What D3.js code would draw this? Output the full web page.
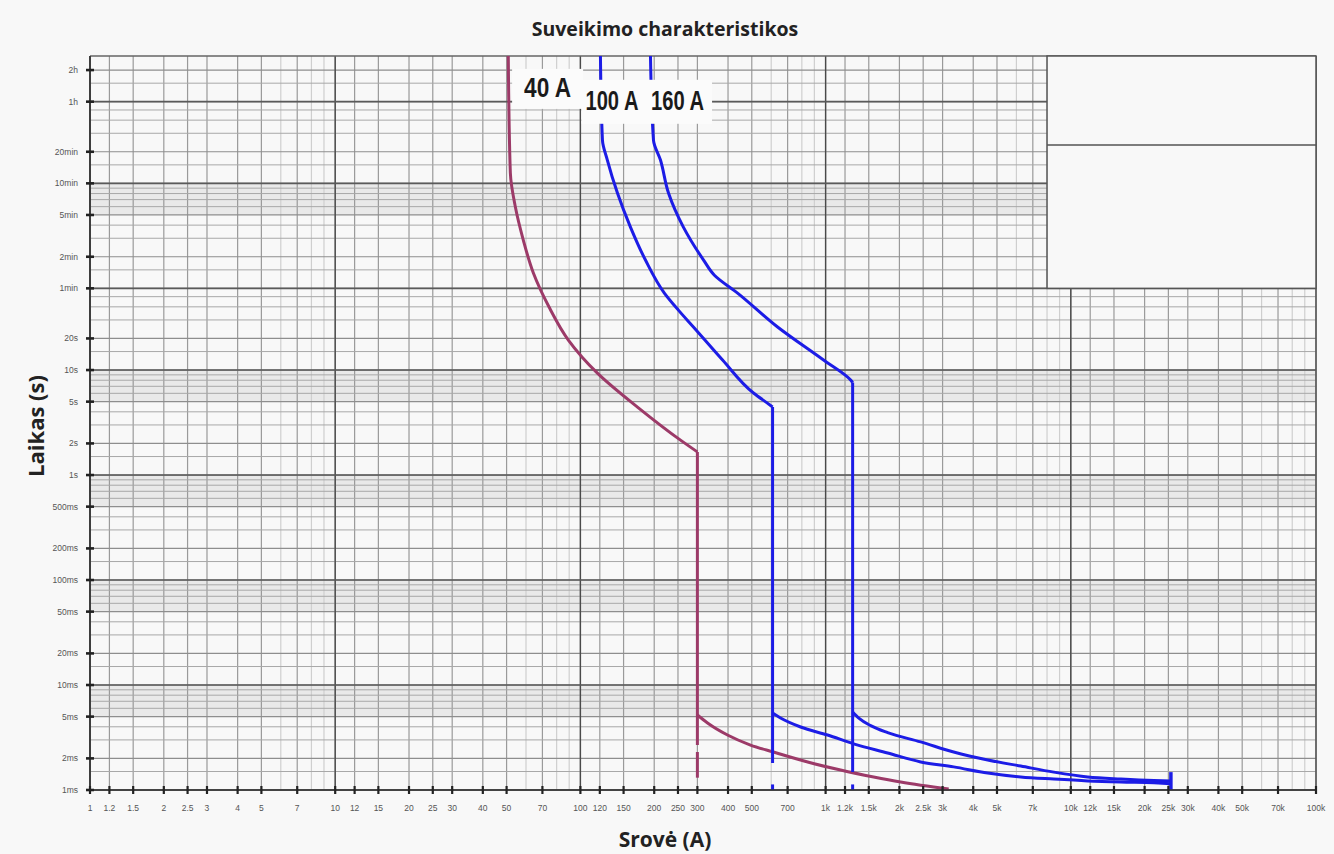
<!DOCTYPE html>
<html>
<head>
<meta charset="utf-8">
<script src="https://cdn.jsdelivr.net/npm/d3@7"></script>
<style>
  body { margin: 0; background: #f8f8f8; }
</style>
</head>
<body>
<div id="chart"></div>
<script>
// ---- axis ticks ----
const xTickValues = [1, 1.2, 1.5, 2, 2.5, 3, 4, 5, 7, 10, 12, 15, 20, 25, 30, 40, 50, 70,
  100, 120, 150, 200, 250, 300, 400, 500, 700, 1000, 1200, 1500, 2000, 2500, 3000, 4000, 5000, 7000,
  10000, 12000, 15000, 20000, 25000, 30000, 40000, 50000, 70000, 100000];
const xTickLabels = ["1", "1.2", "1.5", "2", "2.5", "3", "4", "5", "7", "10", "12", "15", "20", "25", "30", "40", "50", "70",
  "100", "120", "150", "200", "250", "300", "400", "500", "700", "1k", "1.2k", "1.5k", "2k", "2.5k", "3k", "4k", "5k", "7k",
  "10k", "12k", "15k", "20k", "25k", "30k", "40k", "50k", "70k", "100k"];
const xFaintLines = [6, 8, 9, 60, 80, 90, 600, 800, 900, 6000, 8000, 9000, 60000, 80000, 90000];
const xDecadeLines = [1, 10, 100, 1000, 10000, 100000];

const yTickValues = [0.001, 0.002, 0.005, 0.01, 0.02, 0.05, 0.1, 0.2, 0.5, 1, 2, 5, 10, 20, 60, 120, 300, 600, 1200, 3600, 7200];
const yTickLabels = ["1ms", "2ms", "5ms", "10ms", "20ms", "50ms", "100ms", "200ms", "500ms", "1s", "2s", "5s", "10s", "20s",
  "1min", "2min", "5min", "10min", "20min", "1h", "2h"];
const yMinorLines = [0.0015, 0.003, 0.004, 0.006, 0.007, 0.008, 0.009,
  0.015, 0.03, 0.04, 0.06, 0.07, 0.08, 0.09,
  0.15, 0.3, 0.4, 0.6, 0.7, 0.8, 0.9,
  1.5, 3, 4, 6, 7, 8, 9,
  15, 30, 40, 50,
  90, 180, 240, 360, 420, 480, 540,
  900, 1800, 2400, 3000, 5400];
const yDecadeLines = [0.001, 0.01, 0.1, 1, 10, 60, 600, 3600];
const yShadeBands = [[0.005, 0.01], [0.05, 0.1], [0.5, 1], [5, 10], [300, 600]];

// ---- trip curves: [current A, time s] ----
const curve40 = [[50.8, 9800], [51.8, 752], [54.3, 357], [58.5, 173], [64.3, 84], [74.5, 39.8], [89.3, 19.3],
  [117.3, 9.35], [170.9, 4.44], [256, 2.15], [300, 1.66]];
const drop40 = [[300, 1.66], [300, 0.00268]];
const dash40 = [[300, 0.0023], [300, 0.00131]];
const tail40 = [[300, 0.00518], [330, 0.00435], [398, 0.00334], [494, 0.00268], [613, 0.0023], [845, 0.00185],
  [1151, 0.00155], [1570, 0.00133], [2024, 0.00119], [3177, 0.00102]];

const curve100 = [[120.7, 9800], [123, 1550], [128.8, 1000], [141.6, 485], [160, 230], [184.2, 111.6], [220, 54.1],
  [251, 37.2], [289, 25.7], [380, 12.45], [508, 6.04], [596.5, 4.6], [607.8, 4.45]];
const drop100 = [[607.8, 4.45], [607.8, 0.00181]];
const dash100 = [[607.8, 0.00113], [607.8, 0.001]];
const tail100 = [[607.8, 0.00541], [655, 0.00485], [791, 0.00398], [1019, 0.00334], [1301, 0.00275], [1791, 0.00225],
  [2443, 0.00185], [3329, 0.00166], [4584, 0.00145], [6252, 0.00133], [8526, 0.00127], [11730, 0.00122],
  [16000, 0.00119], [21820, 0.00117], [25600, 0.00115]];

const curve160 = [[193.1, 9800], [198.6, 1550], [212.1, 1000], [228.7, 485], [263, 230], [317.9, 111.6], [352, 80],
  [437.5, 54.1], [637, 25.7], [981, 12.45], [1265, 8.03], [1289, 7.6]];
const drop160 = [[1289, 7.6], [1289, 0.00148]];
const dash160 = [[1289, 0.00113], [1289, 0.001]];
const tail160 = [[1289, 0.00553], [1370, 0.00480], [1527, 0.00410], [1791, 0.00352], [2443, 0.00287], [3329, 0.0023],
  [4584, 0.00193], [6252, 0.00169], [8526, 0.00148], [11730, 0.00133], [16000, 0.00127], [21820, 0.00123],
  [25600, 0.00122]];
const endMarker = [[25600, 0.00148], [25600, 0.001]];

const ratingLabels = ["40 A", "100 A", "160 A"];
const ratingLabelAmps = [73.5, 134.5, 249];
const ratingLabelSecs = [4870, 3670, 3670];
const ratingLabelWidths = [47, 53, 53];

const W = 1334, H = 854;
const purple = "#9c3a68", blue = "#1c1ce6";

const svg = d3.select("#chart").append("svg")
  .attr("width", W)
  .attr("height", H)
  .style("display", "block")
  .style("font-family", "'Liberation Sans', Arial, sans-serif");

const x = d3.scaleLog().domain([1, 100000]).range([90, 1316]);
const y = d3.scaleLog().domain([0.001, 9800]).range([790, 56]);

const grid = svg.append("g");

// shaded bands under decade lines
grid.selectAll("rect.band")
  .data(yShadeBands)
  .join("rect")
  .attr("class", "band")
  .attr("x", x(1))
  .attr("width", x(100000) - x(1))
  .attr("y", d => y(d[1]))
  .attr("height", d => y(d[0]) - y(d[1]))
  .attr("fill", "#e9e9e9");

function hLines(vals, color, w) {
  grid.append("g").selectAll("line")
    .data(vals)
    .join("line")
    .attr("x1", x(1)).attr("x2", x(100000))
    .attr("y1", d => y(d)).attr("y2", d => y(d))
    .attr("stroke", color).attr("stroke-width", w);
}
function vLines(vals, color, w) {
  grid.append("g").selectAll("line")
    .data(vals)
    .join("line")
    .attr("x1", d => x(d)).attr("x2", d => x(d))
    .attr("y1", y(0.001)).attr("y2", y.range()[1])
    .attr("stroke", color).attr("stroke-width", w);
}

vLines(xFaintLines, "#cfcfcf", 1.2);
vLines(xTickValues, "#9a9a9a", 1.2);
hLines(yMinorLines, "#a8a8a8", 1);
hLines(yTickValues, "#8e8e8e", 1.2);
vLines(xDecadeLines, "#4a4a4a", 1.4);
hLines(yDecadeLines, "#5a5a5a", 1.6);

// top frame line
grid.append("line")
  .attr("x1", x(1)).attr("x2", x(100000))
  .attr("y1", y.range()[1]).attr("y2", y.range()[1])
  .attr("stroke", "#666").attr("stroke-width", 1.4);

// blank legend box in the top-right corner
const boxA = 8000, boxDiv = 1390;
svg.append("rect")
  .attr("x", x(boxA))
  .attr("y", y.range()[1])
  .attr("width", x(100000) - x(boxA))
  .attr("height", y(60) - y.range()[1])
  .attr("fill", "#f8f8f8")
  .attr("stroke", "#555")
  .attr("stroke-width", 1.5);
svg.append("line")
  .attr("x1", x(boxA)).attr("x2", x(100000))
  .attr("y1", y(boxDiv)).attr("y2", y(boxDiv))
  .attr("stroke", "#555").attr("stroke-width", 1.5);

// curves
const upper = d3.line().x(d => x(d[0])).y(d => y(d[1])).curve(d3.curveMonotoneY);
const lower = d3.line().x(d => x(d[0])).y(d => y(d[1])).curve(d3.curveMonotoneX);
const straight = d3.line().x(d => x(d[0])).y(d => y(d[1]));

const series = [
  { color: purple, curve: curve40, drop: drop40, dash: dash40, tail: tail40 },
  { color: blue, curve: curve100, drop: drop100, dash: dash100, tail: tail100 },
  { color: blue, curve: curve160, drop: drop160, dash: dash160, tail: tail160 }
];

const curves = svg.append("g")
  .attr("fill", "none")
  .attr("stroke-width", 3)
  .attr("stroke-linejoin", "round");

series.forEach(s => {
  curves.append("path").attr("d", upper(s.curve)).attr("stroke", s.color);
  curves.append("path").attr("d", straight(s.drop)).attr("stroke", s.color);
  curves.append("path").attr("d", straight(s.dash)).attr("stroke", s.color);
  curves.append("path").attr("d", lower(s.tail)).attr("stroke", s.color);
});
curves.append("path").attr("d", straight(endMarker)).attr("stroke", blue).attr("stroke-width", 3.5);

// rating labels on white boxes
const labelG = svg.append("g");
const labelTexts = ratingLabels.map((t, i) => labelG.append("text")
  .attr("x", x(ratingLabelAmps[i]))
  .attr("y", y(ratingLabelSecs[i]))
  .attr("text-anchor", "middle")
  .attr("dominant-baseline", "central")
  .attr("textLength", ratingLabelWidths[i])
  .attr("lengthAdjust", "spacingAndGlyphs")
  .style("font-weight", "bold")
  .style("font-size", "27px")
  .attr("fill", "#1a1a1a")
  .text(t));

// boxes behind labels: first label alone, the other two share one box
const b0 = labelTexts[0].node().getBBox();
const b1 = labelTexts[1].node().getBBox();
const b2 = labelTexts[2].node().getBBox();
labelG.insert("rect", "text")
  .attr("x", b0.x - 12).attr("y", b0.y - 4)
  .attr("width", b0.width + 24).attr("height", b0.height + 10)
  .attr("fill", "#fbfbfb");
labelG.insert("rect", "text")
  .attr("x", b1.x - 4).attr("y", b1.y - 6)
  .attr("width", b2.x + b2.width + 12 - b1.x).attr("height", b1.height + 14)
  .attr("fill", "#fbfbfb");

// axes
const axisG = svg.append("g");
axisG.append("line")
  .attr("x1", x(1)).attr("x2", x(1))
  .attr("y1", y.range()[1]).attr("y2", y(0.001))
  .attr("stroke", "#333").attr("stroke-width", 1.6);
axisG.append("line")
  .attr("x1", x(1)).attr("x2", x(100000))
  .attr("y1", y(0.001)).attr("y2", y(0.001))
  .attr("stroke", "#333").attr("stroke-width", 1.6);

axisG.selectAll("line.ytick")
  .data(yTickValues)
  .join("line")
  .attr("class", "ytick")
  .attr("x1", x(1) - 4).attr("x2", x(1) + 4)
  .attr("y1", d => y(d)).attr("y2", d => y(d))
  .attr("stroke", "#222").attr("stroke-width", 2.6);
axisG.selectAll("text.ylab")
  .data(yTickValues)
  .join("text")
  .attr("class", "ylab")
  .attr("x", x(1) - 12)
  .attr("y", d => y(d))
  .attr("dy", "0.35em")
  .attr("text-anchor", "end")
  .style("font-size", "8.5px")
  .attr("fill", "#555")
  .text((d, i) => yTickLabels[i]);

axisG.selectAll("line.xtick")
  .data(xTickValues)
  .join("line")
  .attr("class", "xtick")
  .attr("x1", d => x(d)).attr("x2", d => x(d))
  .attr("y1", y(0.001) - 4).attr("y2", y(0.001) + 4)
  .attr("stroke", "#222").attr("stroke-width", 2.2);
axisG.selectAll("text.xlab")
  .data(xTickValues)
  .join("text")
  .attr("class", "xlab")
  .attr("x", d => x(d))
  .attr("y", y(0.001) + 21)
  .attr("text-anchor", "middle")
  .style("font-size", "8.5px")
  .attr("fill", "#555")
  .text((d, i) => xTickLabels[i]);

// titles
svg.append("text")
  .attr("x", 665).attr("y", 36)
  .attr("text-anchor", "middle")
  .style("font-family", "'Open Sans', sans-serif")
  .style("font-weight", "bold")
  .style("font-size", "19.5px")
  .attr("fill", "#222")
  .text("Suveikimo charakteristikos");

svg.append("text")
  .attr("x", 665).attr("y", 847)
  .attr("text-anchor", "middle")
  .style("font-family", "'Open Sans', sans-serif")
  .style("font-weight", "bold")
  .style("font-size", "21px")
  .attr("fill", "#222")
  .text("Srovė (A)");

svg.append("text")
  .attr("transform", "translate(44,426) rotate(-90)")
  .attr("text-anchor", "middle")
  .style("font-family", "'Open Sans', sans-serif")
  .style("font-weight", "bold")
  .style("font-size", "22px")
  .attr("fill", "#222")
  .text("Laikas (s)");
</script>
</body>
</html>
